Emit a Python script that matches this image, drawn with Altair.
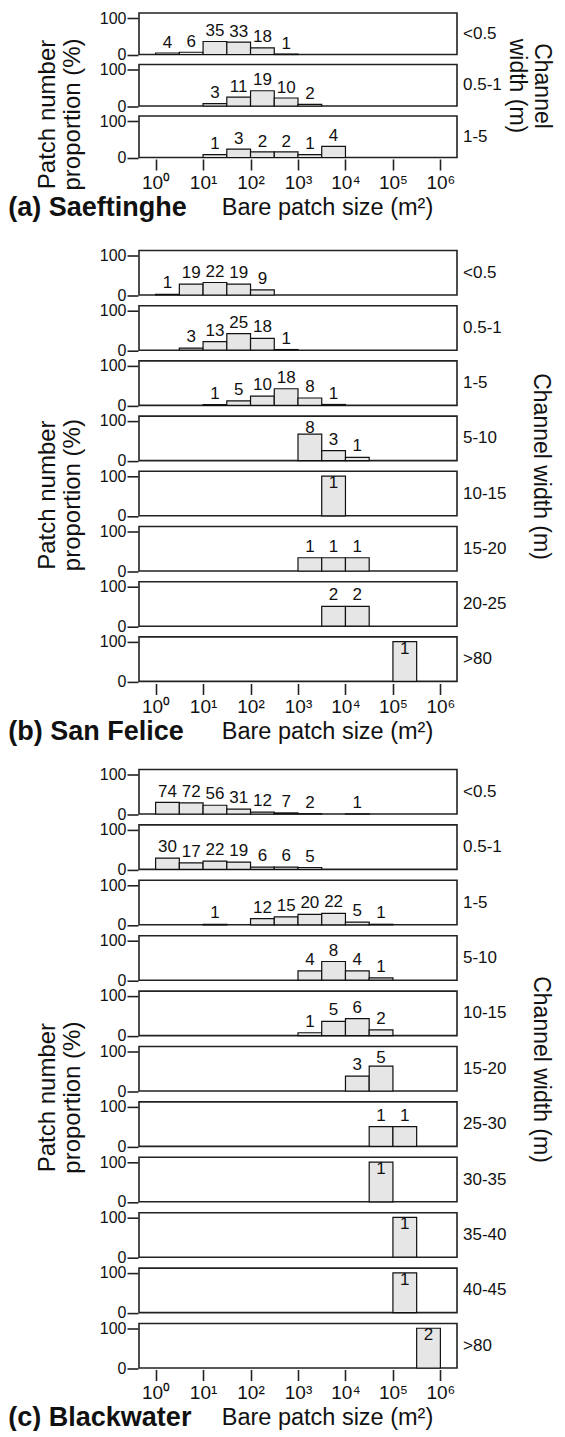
import altair as alt
import pandas as pd

FONT = "Liberation Sans"

# ---------------- data (log10 of lower bin edge, counts) ----------------
SAEF_WIDTHS = ["<0.5", "0.5-1", "1-5"]
SAEF_BIN_START = [[0, 0.5, 1, 1.5, 2, 2.5], [1, 1.5, 2, 2.5, 3], [1, 1.5, 2, 2.5, 3, 3.5]]
SAEF_COUNTS = [[4, 6, 35, 33, 18, 1], [3, 11, 19, 10, 2], [1, 3, 2, 2, 1, 4]]

SANF_WIDTHS = ["<0.5", "0.5-1", "1-5", "5-10", "10-15", "15-20", "20-25", ">80"]
SANF_BIN_START = [[0, 0.5, 1, 1.5, 2], [0.5, 1, 1.5, 2, 2.5], [1, 1.5, 2, 2.5, 3, 3.5],
                  [3, 3.5, 4], [3.5], [3, 3.5, 4], [3.5, 4], [5]]
SANF_COUNTS = [[1, 19, 22, 19, 9], [3, 13, 25, 18, 1], [1, 5, 10, 18, 8, 1],
               [8, 3, 1], [1], [1, 1, 1], [2, 2], [1]]

BLACK_WIDTHS = ["<0.5", "0.5-1", "1-5", "5-10", "10-15", "15-20", "25-30",
                "30-35", "35-40", "40-45", ">80"]
BLACK_BIN_START = [[0, 0.5, 1, 1.5, 2, 2.5, 3, 4], [0, 0.5, 1, 1.5, 2, 2.5, 3],
                   [1, 2, 2.5, 3, 3.5, 4, 4.5], [3, 3.5, 4, 4.5], [3, 3.5, 4, 4.5],
                   [4, 4.5], [4.5, 5], [4.5], [5], [5], [5.5]]
BLACK_COUNTS = [[74, 72, 56, 31, 12, 7, 2, 1], [30, 17, 22, 19, 6, 6, 5],
                [1, 12, 15, 20, 22, 5, 1], [4, 8, 4, 1], [1, 5, 6, 2], [3, 5],
                [1, 1], [1], [1], [1], [2]]

X_TICKS = [1, 10, 100, 1000, 10000, 100000, 1000000]
SUPERSCRIPTS = ["⁰", "¹", "²", "³", "⁴", "⁵", "⁶"]


def build(widths, starts, counts):
    rows = []
    for w, ss, cs in zip(widths, starts, counts):
        tot = sum(cs)
        for s, c in zip(ss, cs):
            rows.append(dict(width=w, lo=10 ** s, hi=10 ** (s + 0.5),
                             mid=10 ** (s + 0.25), count=c, pct=100.0 * c / tot))
    return pd.DataFrame(rows)


sup_list = "[" + ",".join("'%s'" % s for s in SUPERSCRIPTS) + "]"
label_expr = "'10' + " + sup_list + "[round(log(datum.value)/LN10)]"

xscale = alt.Scale(type="log", domain=[10 ** -0.35, 10 ** 6.35], nice=False)
PLOT_W = 318


def group(df, widths, label, cell_h, ymax, row_spacing, ch_title, ch_pad):
    yscale = alt.Scale(domain=[0, ymax], nice=False, zero=True)
    xaxis = alt.Axis(values=X_TICKS, labelExpr=label_expr, grid=False, domain=False,
                     tickSize=11, tickWidth=1.6, tickColor="#222", labelFontSize=19,
                     labelPadding=3, labelFlush=False, labelOverlap=False,
                     title="Bare patch size (m²)", titleFontSize=23.5,
                     titleFontWeight="normal", titleX=188, titleY=55,
                     titleAlign="center", titleBaseline="alphabetic")
    yaxis = alt.Axis(values=[0, 100], grid=False, domain=False, tickSize=11,
                     tickWidth=1.6, tickColor="#222", labelFontSize=16,
                     labelPadding=1, title=None)
    bars = alt.Chart().mark_bar(fill="#e6e6e6", stroke="#111", strokeWidth=1.2).encode(
        x=alt.X("lo:Q", scale=xscale, axis=xaxis),
        x2="hi:Q",
        y=alt.Y("pct:Q", scale=yscale, axis=yaxis),
        y2=alt.datum(0),
    )
    text = alt.Chart().mark_text(baseline="alphabetic", fontSize=17, font=FONT,
                                 color="#111").transform_calculate(
        ly="min(datum.pct + 15, 70)"
    ).encode(
        x=alt.X("mid:Q", scale=xscale),
        y=alt.Y("ly:Q", scale=yscale),
        text="count:Q",
    )
    # channel-width label at the right side of each panel
    rowlab = alt.Chart().mark_text(align="left", baseline="middle", fontSize=17,
                                   font=FONT, color="#111").transform_aggregate(
        n="count()", groupby=["width"]
    ).encode(
        text="width:N",
        x=alt.value(PLOT_W + 6),
        y=alt.value(cell_h / 2),
    )
    layer = alt.layer(bars, text, rowlab, data=df).properties(width=PLOT_W, height=cell_h)
    fac = layer.facet(
        row=alt.Row("width:N", sort=widths, title=ch_title,
                    header=alt.Header(labels=False,
                                      titleOrient="right", titleAngle=90, titleFontSize=23,
                                      titleFontWeight="normal", titleFont=FONT,
                                      titlePadding=ch_pad, titleLineHeight=25)),
        spacing=row_spacing,
    ).properties(
        title=alt.TitleParams(["Patch number", "proportion (%)"], orient="left",
                              anchor="middle", fontSize=24, fontWeight="normal",
                              offset=14, lineHeight=25, font=FONT)
    )
    return alt.vconcat(fac, title=alt.TitleParams(label, orient="bottom", anchor="start",
                                                  fontSize=27, fontWeight="bold",
                                                  offset=-24, dx=-28, font=FONT))


ga = group(build(SAEF_WIDTHS, SAEF_BIN_START, SAEF_COUNTS), SAEF_WIDTHS,
           "(a) Saeftinghe", 41.5, 115, 7.5, ["Channel", "width (m)"], -8)
gb = group(build(SANF_WIDTHS, SANF_BIN_START, SANF_COUNTS), SANF_WIDTHS,
           "(b) San Felice", 44.5, 112, 8.2, "Channel width (m)", 11)
gc = group(build(BLACK_WIDTHS, BLACK_BIN_START, BLACK_COUNTS), BLACK_WIDTHS,
           "(c) Blackwater", 44.5, 112, 8.4, "Channel width (m)", 11)

chart = alt.vconcat(alt.vconcat(ga, gb, spacing=25.5), gc, spacing=20.5).properties(
    padding={"left": 0, "top": 2, "right": 3, "bottom": 0}
).configure_view(
    stroke="#222", strokeWidth=1.6
).configure_axis(
    labelFont=FONT, titleFont=FONT, labelColor="#111", titleColor="#111"
).configure_title(
    font=FONT, color="#111"
).configure_header(
    labelColor="#111", titleColor="#111"
)

chart.save("out.html", embed_options={"renderer": "svg", "actions": False})
